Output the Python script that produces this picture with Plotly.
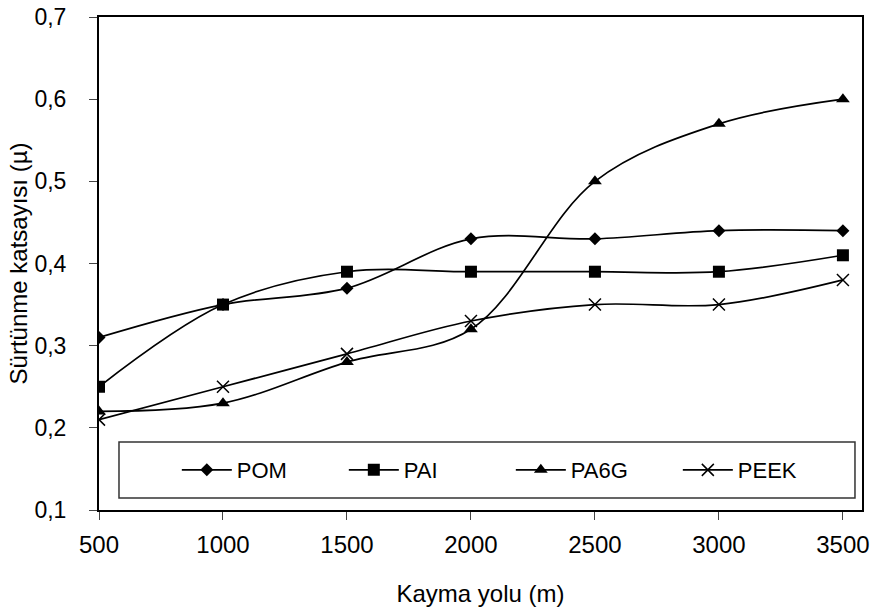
import plotly.graph_objects as go

# Sliding distance (m) and friction coefficient per polymer
kayma_yolu = [500, 1000, 1500, 2000, 2500, 3000, 3500]
pom = [0.31, 0.35, 0.37, 0.43, 0.43, 0.44, 0.44]
pai = [0.25, 0.35, 0.39, 0.39, 0.39, 0.39, 0.41]
pa6g = [0.22, 0.23, 0.28, 0.32, 0.50, 0.57, 0.60]
peek = [0.21, 0.25, 0.29, 0.33, 0.35, 0.35, 0.38]

y_ticks = [0.1, 0.2, 0.3, 0.4, 0.5, 0.6, 0.7]
x_ticks = kayma_yolu

series = [
    ("POM", pom, dict(symbol="diamond", size=10)),
    ("PAI", pai, dict(symbol="square", size=12)),
    ("PA6G", pa6g, dict(symbol="triangle-up", size=12)),
    ("PEEK", peek, dict(symbol="x-thin-open", size=12, line=dict(width=1.5, color="black"))),
]

fig = go.Figure()
for name, vals, mk in series:
    fig.add_trace(go.Scatter(
        x=kayma_yolu, y=vals, name=name, mode="lines+markers",
        line=dict(color="black", width=1.7, shape="spline", smoothing=1.0),
        marker=dict(color="black", **mk),
    ))

font = "Liberation Sans, Arial, sans-serif"

# Legend frame drawn inside the plot area
fig.add_shape(type="rect", xref="paper", yref="paper",
              x0=0.0262, x1=0.9908, y0=0.0243, y1=0.138,
              line=dict(color="#333333", width=1.5), fillcolor="white", layer="below")

fig.update_layout(
    width=874, height=612,
    margin=dict(l=99, r=12, t=17, b=102, autoexpand=False),
    paper_bgcolor="white", plot_bgcolor="white",
    separators=",.",
    font=dict(family=font, size=22, color="black"),
    showlegend=True,
    legend=dict(
        orientation="h", x=0.102, xanchor="left", y=0.081, yanchor="middle",
        borderwidth=0, bgcolor="rgba(0,0,0,0)",
        entrywidth=102, itemwidth=50, font=dict(size=22, family=font),
    ),
    xaxis=dict(
        range=[500, 3577], tickvals=x_ticks, ticks="outside", ticklen=8,
        tickwidth=1, showgrid=False, zeroline=False, automargin=False,
        showline=True, linecolor="black", linewidth=2, mirror=True,
        ticklabelstandoff=4,
        title=dict(text="Kayma yolu (m)", standoff=28, font=dict(size=24)),
        tickfont=dict(size=24),
    ),
    yaxis=dict(
        range=[0.1, 0.7], tickvals=y_ticks, tickformat=".1f", ticks="outside",
        ticklen=8, tickwidth=1, showgrid=False, zeroline=False, automargin=False,
        showline=True, linecolor="black", linewidth=2, mirror=True,
        ticklabelstandoff=18,
        title=dict(text="Sürtünme katsayısı (µ)", standoff=0, font=dict(size=24)),
        tickfont=dict(size=23),
    ),
)

fig.write_html("out.html")
